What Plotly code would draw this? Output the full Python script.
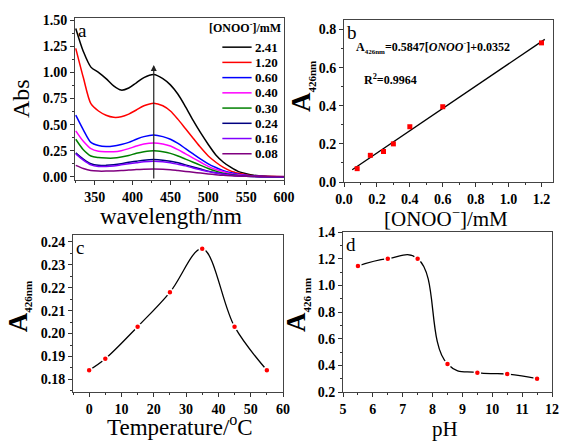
import plotly.graph_objects as go

FONT = "Liberation Serif, Times New Roman, serif"

# ---------------- Panel a data: UV-vis spectra ----------------
wavelength = [325, 335, 345, 355, 365, 375, 385, 395, 405, 415, 428, 440, 450, 460,
              470, 480, 490, 500, 510, 520, 530, 540, 550, 560, 575, 600]
conc_labels = ["2.41", "1.20", "0.60", "0.40", "0.30", "0.24", "0.16", "0.08"]
conc_colors = ["#000000", "#ff0000", "#0000ff", "#ff00ff", "#008000", "#000080", "#8000ff", "#800080"]
abs_241 = [1.42, 1.20, 1.05, 1.00, 0.94, 0.87, 0.83, 0.85, 0.90, 0.95, 0.98, 0.94, 0.88, 0.79,
           0.67, 0.54, 0.42, 0.31, 0.21, 0.14, 0.09, 0.05, 0.03, 0.015, 0.005, 0.0]
abs_120 = [1.23, 0.95, 0.70, 0.63, 0.59, 0.57, 0.575, 0.60, 0.64, 0.68, 0.705, 0.68, 0.63, 0.55,
           0.46, 0.37, 0.28, 0.20, 0.14, 0.09, 0.055, 0.035, 0.02, 0.01, 0.005, 0.0]
abs_060 = [0.59, 0.45, 0.33, 0.30, 0.29, 0.295, 0.31, 0.33, 0.36, 0.385, 0.40, 0.385, 0.36, 0.32,
           0.27, 0.22, 0.17, 0.125, 0.09, 0.06, 0.04, 0.025, 0.015, 0.008, 0.003, 0.0]
abs_040 = [0.44, 0.34, 0.27, 0.245, 0.24, 0.24, 0.25, 0.27, 0.295, 0.315, 0.325, 0.315, 0.295, 0.26,
           0.22, 0.18, 0.14, 0.10, 0.07, 0.05, 0.03, 0.02, 0.012, 0.006, 0.002, 0.0]
abs_030 = [0.36, 0.26, 0.20, 0.185, 0.18, 0.18, 0.19, 0.205, 0.225, 0.24, 0.25, 0.24, 0.225, 0.20,
           0.17, 0.14, 0.11, 0.08, 0.055, 0.035, 0.022, 0.014, 0.008, 0.004, 0.001, 0.0]
abs_024 = [0.23, 0.17, 0.125, 0.11, 0.11, 0.115, 0.125, 0.14, 0.15, 0.16, 0.165, 0.16, 0.15, 0.135,
           0.115, 0.095, 0.075, 0.055, 0.04, 0.027, 0.017, 0.01, 0.006, 0.003, 0.001, 0.0]
abs_016 = [0.22, 0.16, 0.115, 0.10, 0.10, 0.105, 0.115, 0.125, 0.135, 0.145, 0.15, 0.145, 0.135, 0.12,
           0.105, 0.085, 0.067, 0.05, 0.036, 0.024, 0.015, 0.009, 0.005, 0.003, 0.001, 0.0]
abs_008 = [0.11, 0.08, 0.06, 0.055, 0.055, 0.057, 0.06, 0.065, 0.07, 0.073, 0.075, 0.073, 0.068, 0.06,
           0.052, 0.044, 0.036, 0.028, 0.021, 0.015, 0.011, 0.008, 0.006, 0.005, 0.004, 0.003]
spectra = [abs_241, abs_120, abs_060, abs_040, abs_030, abs_024, abs_016, abs_008]
peak_wl = 428
arrow_from, arrow_to = -0.03, 1.07

# ---------------- Panel b data: calibration ----------------
b_conc = [0.08, 0.16, 0.24, 0.30, 0.40, 0.60, 1.20]
b_abs = [0.07, 0.14, 0.16, 0.20, 0.29, 0.395, 0.73]
slope, intercept = 0.5847, 0.0352
fit_x = [0.05, 1.22]
fit_y = [slope * v + intercept for v in fit_x]

# ---------------- Panel c data: temperature ----------------
temp = [0, 5, 15, 25, 35, 45, 55]
temp_abs = [0.184, 0.189, 0.203, 0.218, 0.237, 0.203, 0.184]

# ---------------- Panel d data: pH ----------------
ph = [5.5, 6.5, 7.5, 8.5, 9.5, 10.5, 11.5]
ph_abs = [1.145, 1.20, 1.20, 0.41, 0.345, 0.335, 0.30]

fig = go.Figure()

for lab, col, ys in zip(conc_labels, conc_colors, spectra):
    fig.add_trace(go.Scatter(x=wavelength, y=ys, mode="lines", name=lab,
                             line=dict(color=col, width=1.5, shape="spline", smoothing=0.8),
                             xaxis="x", yaxis="y", showlegend=False))

fig.add_trace(go.Scatter(x=fit_x, y=fit_y, mode="lines", line=dict(color="black", width=1.3),
                         xaxis="x2", yaxis="y2", showlegend=False))
fig.add_trace(go.Scatter(x=b_conc, y=b_abs, mode="markers",
                         marker=dict(symbol="square", color="red", size=5),
                         xaxis="x2", yaxis="y2", showlegend=False))

fig.add_trace(go.Scatter(x=temp, y=temp_abs, mode="lines",
                         line=dict(color="black", width=1.3, shape="spline", smoothing=1.0),
                         xaxis="x3", yaxis="y3", showlegend=False))
fig.add_trace(go.Scatter(x=temp, y=temp_abs, mode="markers",
                         marker=dict(color="red", size=6, line=dict(color="white", width=1.5)),
                         xaxis="x3", yaxis="y3", showlegend=False))

fig.add_trace(go.Scatter(x=ph, y=ph_abs, mode="lines",
                         line=dict(color="black", width=1.3, shape="spline", smoothing=1.3),
                         xaxis="x4", yaxis="y4", showlegend=False))
fig.add_trace(go.Scatter(x=ph, y=ph_abs, mode="markers",
                         marker=dict(color="red", size=6, line=dict(color="white", width=1.5)),
                         xaxis="x4", yaxis="y4", showlegend=False))

W, H = 561, 444
tickfont = dict(family=FONT, size=14, color="black", weight="bold")


def ax(domain, rng, dtick, tick0, minor_dtick, anchor, fmt=None):
    d = dict(domain=domain, range=rng, dtick=dtick, tick0=tick0, ticks="outside", ticklen=4,
             tickwidth=1, tickcolor="#333", showline=True, linecolor="#444", linewidth=1,
             mirror=True, showgrid=False, zeroline=False, tickfont=tickfont, anchor=anchor,
             automargin=False,
             minor=dict(ticks="outside", ticklen=2, dtick=minor_dtick, tickcolor="#333", showgrid=False))
    if fmt:
        d["tickformat"] = fmt
    return d


def px_dom_x(a, b):
    return [a / W, b / W]


def px_dom_y(top, bottom):
    return [1 - bottom / H, 1 - top / H]


fig.update_layout(
    width=W, height=H, margin=dict(l=0, r=0, t=0, b=0, autoexpand=False),
    plot_bgcolor="white", paper_bgcolor="white",
    font=dict(family=FONT, color="black"),
    xaxis=ax(px_dom_x(75, 284), [324, 600], 50, 350, 25, "y"),
    yaxis=ax(px_dom_y(18, 180), [-0.03, 1.52], 0.25, 0, 0.125, "x", fmt=".2f"),
    xaxis2=ax(px_dom_x(344, 553), [0, 1.27], 0.2, 0, 0.1, "y2", fmt=".1f"),
    yaxis2=ax(px_dom_y(20, 182), [0, 0.85], 0.2, 0, 0.1, "x2", fmt=".1f"),
    xaxis3=ax(px_dom_x(73, 283), [-5, 60], 10, 0, 5, "y3"),
    yaxis3=ax(px_dom_y(235, 392), [0.1745, 0.243], 0.01, 0.18, 0.005, "x3", fmt=".2f"),
    xaxis4=ax(px_dom_x(343, 552), [5, 12], 1, 5, 0.5, "y4"),
    yaxis4=ax(px_dom_y(232, 392), [0.2, 1.4], 0.2, 0.2, 0.1, "x4", fmt=".1f"),
)

annotations = []


def title_x(xr, text, size, x, yshift):
    annotations.append(dict(text=text, xref=xr + " domain", yref=xr.replace("x", "y") + " domain",
                            x=x, y=0, xanchor="center", yanchor="middle", yshift=yshift,
                            showarrow=False, font=dict(family=FONT, size=size, color="black")))


def title_y(xr, text, size, y, xshift, weight="normal"):
    annotations.append(dict(text=text, xref=xr + " domain", yref=xr.replace("x", "y") + " domain",
                            x=0, y=y, xanchor="center", yanchor="middle", xshift=xshift,
                            textangle=-90, showarrow=False,
                            font=dict(family=FONT, size=size, color="black", weight=weight)))


A426 = "A" + '<sub><span style="font-size:11px">426nm</span></sub>'
A426s = "A" + '<sub><span style="font-size:11px">426 nm</span></sub>'

title_x("x", "wavelength/nm", 23, 0.46, -36)
title_x("x2", "[ONOO<sup>−</sup>]/mM", 21, 0.49, -35)
title_x("x3", "Temperature/<sup>o</sup>C", 23, 0.51, -33)
title_x("x4", "pH", 21, 0.49, -37)
title_y("x", "Abs", 24, 0.5, -54)
title_y("x2", A426, 27, 0.586, -42, "bold")
title_y("x3", A426, 27, 0.54, -54, "bold")
title_y("x4", A426s, 27, 0.544, -46, "bold")

for letter, xr in zip(["a", "b", "c", "d"], ["x", "x2", "x3", "x4"]):
    annotations.append(dict(text=letter, xref=xr + " domain", yref=xr.replace("x", "y") + " domain",
                            x=0.005, y=1.0, xanchor="left", yanchor="top", showarrow=False,
                            font=dict(family=FONT, size=19, color="black")))

# arrow in panel a
annotations.append(dict(x=peak_wl, y=arrow_to, ax=peak_wl, ay=arrow_from, xref="x", yref="y",
                        axref="x", ayref="y", showarrow=True, arrowhead=2, arrowsize=1,
                        arrowwidth=1.2, arrowcolor="#222", text=""))

# equation annotations in panel b
annotations.append(dict(text="A" + '<sub><span style="font-size:7px">426nm</span></sub>' +
                        "=0.5847[<i>ONOO<sup>-</sup></i>]+0.0352",
                        xref="x2 domain", yref="y2 domain", x=0.05, y=0.83, xanchor="left",
                        yanchor="middle", showarrow=False,
                        font=dict(family=FONT, size=12, color="black", weight="bold")))
annotations.append(dict(text="R<sup>2</sup>=0.9964", xref="x2 domain", yref="y2 domain",
                        x=0.085, y=0.63, xanchor="left", yanchor="middle", showarrow=False,
                        font=dict(family=FONT, size=12, color="black", weight="bold")))

# legend for panel a (compact, drawn in the axis domain)
annotations.append(dict(text="[ONOO<sup>-</sup>]/mM", xref="x domain", yref="y domain",
                        x=0.995, y=0.94, xanchor="right", yanchor="middle", showarrow=False,
                        font=dict(family=FONT, size=12, color="black", weight="bold")))
shapes = []
leg_top, leg_step = 0.82, 0.094
for i, (lab, col) in enumerate(zip(conc_labels, conc_colors)):
    yy = leg_top - i * leg_step
    shapes.append(dict(type="line", xref="x domain", yref="y domain", x0=0.705, x1=0.845,
                       y0=yy, y1=yy, line=dict(color=col, width=1.5)))
    annotations.append(dict(text=lab, xref="x domain", yref="y domain", x=0.85, y=yy,
                            xanchor="left", yanchor="middle", showarrow=False,
                            font=dict(family=FONT, size=13, color="black", weight="bold")))

fig.update_layout(annotations=annotations, shapes=shapes)
fig.write_html("out.html", config={"displayModeBar": False},
               post_script="document.body.style.margin='0';document.body.style.overflow='hidden';")
